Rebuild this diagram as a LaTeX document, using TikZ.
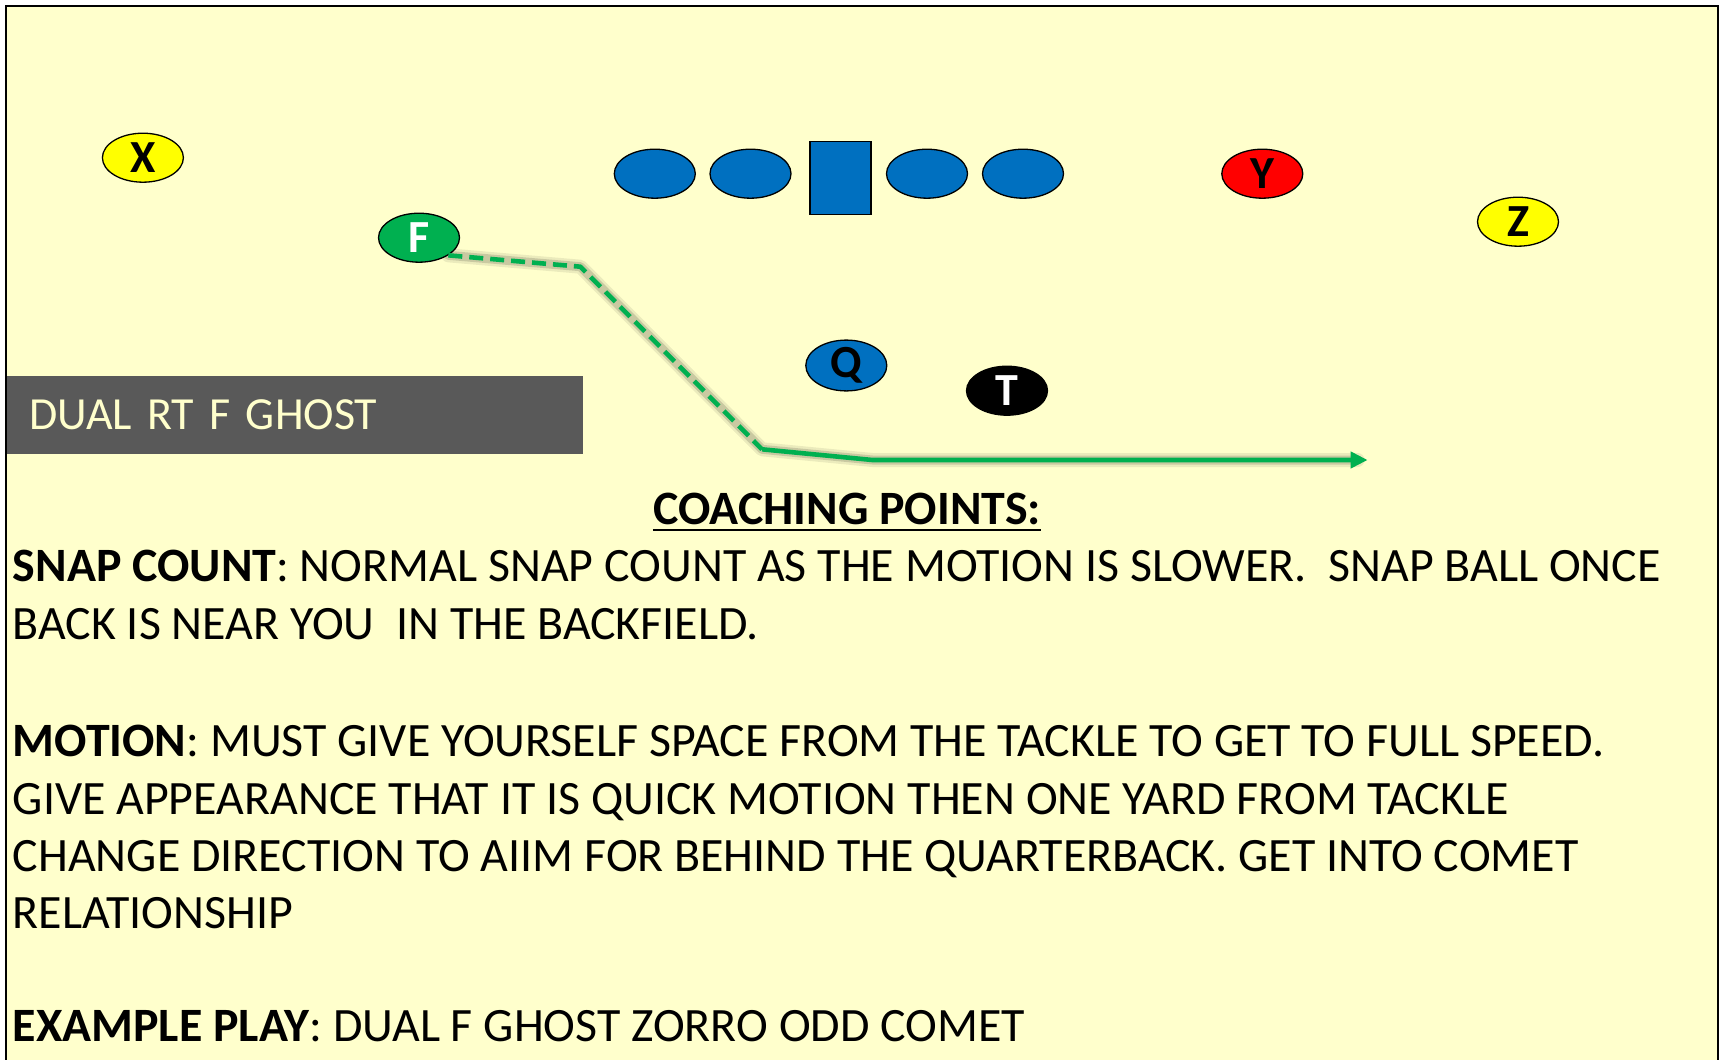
\documentclass[tikz,border=0pt]{standalone}
\usepackage{fontspec}
\setmainfont{Carlito}
\usetikzlibrary{arrows.meta,shapes.geometric}
\definecolor{bgyellow}{HTML}{FFFFCC}
\definecolor{olblue}{HTML}{0070C0}
\definecolor{pgreen}{HTML}{00B050}
\definecolor{ttlgray}{HTML}{595959}
\definecolor{ttltext}{HTML}{FFFFCC}
\definecolor{pyellow}{HTML}{FFFF00}
\definecolor{pred}{HTML}{FF0000}
\pgfdeclarelayer{back}
\pgfsetlayers{back,main}
\begin{document}
\begin{tikzpicture}[x=1pt,y=-1pt,
  player/.style={ellipse, draw=black, line width=1.3pt, minimum width=81pt, minimum height=49pt, inner sep=0pt, font=\fontsize{46}{46}\selectfont\bfseries},
  lineman/.style={player, fill=olblue},
  txt/.style={anchor=base west, inner sep=0pt, font=\fontsize{47.9}{47.9}\selectfont},
  route/.style={draw=pgreen, line width=4.6pt, line join=round},
  shadowline/.style={draw=black, line join=round, line cap=round}
]
\useasboundingbox (0,0) rectangle (1727,1060);

% players
\node[player, fill=pyellow] (X) at (142.9,157.7) {X};
\node[player, fill=pgreen, text=white] (F) at (419,237.7) {F};
\node[lineman] (LT) at (654.8,173.7) {};
\node[lineman] (LG) at (750.5,173.7) {};
\node[draw=black, fill=olblue, line width=1.3pt, minimum width=61pt, minimum height=73pt, inner sep=0pt] (C) at (840.5,177.8) {};
\node[lineman] (RG) at (927,173.7) {};
\node[lineman] (RT) at (1023,173.7) {};
\node[player, fill=pred] (Y) at (1262.3,173.7) {Y};
\node[player, fill=pyellow] (Z) at (1518,221.7) {Z};
\node[player, fill=olblue] (Q) at (846.3,365.5) {Q};
\node[player, fill=black, text=white] (T) at (1007,390.7) {T};

% route
\coordinate (c1) at (580.4,266.7);
\coordinate (c2) at (762,449.3);
\coordinate (c3) at (872.4,460);
\coordinate (tip) at (1367.6,460);

\begin{pgfonlayer}{back}
  \fill[bgyellow] (6,6) rectangle (1718,1060);
  \draw[shadowline, yshift=4pt, line width=14pt, opacity=0.08] (F.-31) -- (c1) -- (c2) -- (c3) -- ([xshift=-10pt]tip);
  \draw[shadowline, yshift=4pt, line width=9pt, opacity=0.14] (F.-31) -- (c1) -- (c2) -- (c3) -- ([xshift=-10pt]tip);
\end{pgfonlayer}
\draw[line width=2pt] (6,1060) -- (6,6) -- (1718,6) -- (1718,1060);

\draw[route, dash pattern=on 14pt off 7pt] (F.-31) -- (c1) -- (c2);
\draw[route, -{Triangle[length=17pt,width=16pt]}] (c2) -- (c3) -- (tip);

% title box
\node[fill=ttlgray, text=ttltext, anchor=north west, minimum width=576.3pt, minimum height=77.7pt,
      inner xsep=22.3pt, inner ysep=0pt, text width=531.7pt, align=left,
      font=\fontsize{46}{46}\selectfont] (title) at (6.7,376) {DUAL RT F GHOST};

% coaching points
\node[txt, anchor=base, font=\fontsize{47.9}{47.9}\selectfont\bfseries] (cp) at (847,524.3) {COACHING POINTS:};
\draw[line width=2pt] ([yshift=-5.7pt]cp.base west) -- ([yshift=-5.7pt]cp.base east);

\node[txt] (l1) at (12.6,581.7) {\textbf{SNAP COUNT}: NORMAL SNAP COUNT AS THE MOTION IS SLOWER.\ \ SNAP BALL ONCE};
\node[txt] (l2) at (12.6,639.9) {BACK IS NEAR YOU\ \ IN THE BACKFIELD.};
\node[txt] (l3) at (12.6,756.6) {\textbf{MOTION}: MUST GIVE YOURSELF SPACE FROM THE TACKLE TO GET TO FULL SPEED.};
\node[txt] (l4) at (12.6,814) {GIVE APPEARANCE THAT IT IS QUICK MOTION THEN ONE YARD FROM TACKLE};
\node[txt] (l5) at (12.6,871.4) {CHANGE DIRECTION TO AIIM FOR BEHIND THE QUARTERBACK. GET INTO COMET};
\node[txt] (l6) at (12.6,928.8) {RELATIONSHIP};
\node[txt] (l7) at (12.6,1041.7) {\textbf{EXAMPLE PLAY}: DUAL F GHOST ZORRO ODD COMET};
\end{tikzpicture}
\end{document}
